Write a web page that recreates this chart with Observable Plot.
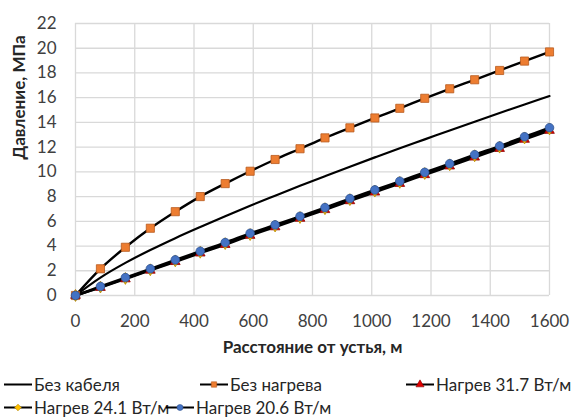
<!DOCTYPE html>
<html>
<head>
<meta charset="utf-8">
<script src="https://cdn.jsdelivr.net/npm/d3@7"></script>
<script src="https://cdn.jsdelivr.net/npm/@observablehq/plot@0.6"></script>
<style>
  body { margin: 0; background: #fff; font-family: Lato, "Open Sans", sans-serif; }
  #wrap { position: relative; width: 573px; height: 420px; }
  #legend { position: absolute; left: 0; top: 0; width: 573px; height: 420px; pointer-events: none; }
  .item { position: absolute; display: flex; align-items: center; font-size: 17px; color: #262626; white-space: nowrap; transform: translateY(-50%); }
  .item svg { margin-right: 2px; }
</style>
</head>
<body>
<div id="wrap">
  <div id="chart"></div>
  <div id="legend"></div>
</div>
<script>
// Distances along the well, m (20 points)
const distance = [0, 84.2, 168.4, 252.6, 336.8, 421.1, 505.3, 589.5, 673.7, 757.9, 842.1, 926.3, 1010.5, 1094.7, 1178.9, 1263.2, 1347.4, 1431.6, 1515.8, 1600];

// Pressure, MPa
const noCable   = [0, 1.45, 2.64, 3.68, 4.64, 5.54, 6.41, 7.26, 8.07, 8.87, 9.65, 10.42, 11.17, 11.91, 12.63, 13.35, 14.06, 14.76, 15.45, 16.13];
const noHeat    = [0, 2.16, 3.9, 5.44, 6.78, 8.0, 9.05, 10.05, 11.0, 11.87, 12.75, 13.56, 14.36, 15.14, 15.95, 16.72, 17.45, 18.2, 18.96, 19.7];
const heat317   = [0, 0.64, 1.33, 2.03, 2.73, 3.42, 4.11, 4.85, 5.54, 6.23, 6.93, 7.65, 8.35, 9.05, 9.76, 10.46, 11.18, 11.88, 12.62, 13.34];
const heat241   = [0, 0.68, 1.38, 2.08, 2.8, 3.5, 4.2, 4.93, 5.62, 6.31, 7.02, 7.75, 8.45, 9.15, 9.87, 10.57, 11.3, 12.0, 12.74, 13.47];
const heat206   = [0, 0.73, 1.45, 2.16, 2.88, 3.58, 4.28, 5.03, 5.71, 6.4, 7.11, 7.84, 8.54, 9.24, 9.96, 10.66, 11.39, 12.09, 12.84, 13.57];

const seriesNames = ["Без кабеля", "Без нагрева", "Нагрев 31.7 Вт/м", "Нагрев 24.1 Вт/м", "Нагрев 20.6 Вт/м"];
const xTicks = [0, 200, 400, 600, 800, 1000, 1200, 1400, 1600];
const yTicks = [0, 2, 4, 6, 8, 10, 12, 14, 16, 18, 20, 22];
const xTitle = "Расстояние от устья, м";
const yTitle = "Давление, МПа";

const styles = [
  {name: seriesNames[0], values: noCable, symbol: null, fill: null, stroke: null, r: 0},
  {name: seriesNames[1], values: noHeat, symbol: "square", fill: "#ED7D31", stroke: "#B85A1E", r: 4.6},
  {name: seriesNames[2], values: heat317, symbol: "triangle", fill: "#E00000", stroke: "#8B0000", r: 3.6},
  {name: seriesNames[3], values: heat241, symbol: "diamond", fill: "#FFC000", stroke: "#B38600", r: 3.6},
  {name: seriesNames[4], values: heat206, symbol: "circle", fill: "#4472C4", stroke: "#2F528F", r: 4.3}
];

const rows = s => distance.map((d, i) => ({x: d, y: s.values[i], series: s.name}));

const marks = [
  Plot.gridX(xTicks, {stroke: "#d9d9d9", strokeOpacity: 1, strokeWidth: 1.3}),
  Plot.gridY(yTicks, {stroke: "#d9d9d9", strokeOpacity: 1, strokeWidth: 1.3}),
  Plot.axisX(xTicks, {tickSize: 0, tickPadding: 19, fontSize: 17, fill: "#404040", label: null, tickFormat: d => String(d)}),
  Plot.axisY(yTicks, {tickSize: 0, tickPadding: 19, fontSize: 17, fill: "#404040", label: null, tickFormat: d => String(d)}),
];
for (const s of styles) {
  marks.push(Plot.line(rows(s), {x: "x", y: "y", stroke: "#000", strokeWidth: s.symbol ? 2.4 : 2.2, curve: "catmull-rom"}));
}
for (const s of styles.slice(1)) {
  marks.push(Plot.dot(rows(s), {x: "x", y: "y", symbol: s.symbol, fill: s.fill, stroke: s.stroke, strokeWidth: 0.8, r: s.r}));
}
marks.push(Plot.text([yTitle], {frameAnchor: "left", dx: -56, rotate: -90, fontWeight: "bold", fontSize: 17, fill: "#262626"}));
marks.push(Plot.text([xTitle], {frameAnchor: "bottom", dy: 57, fontWeight: "bold", fontSize: 17, fill: "#262626"}));

const chart = Plot.plot({
  width: 573,
  height: 365,
  marginLeft: 75,
  marginRight: 24,
  marginTop: 23,
  marginBottom: 70,
  x: {domain: [0, 1600]},
  y: {domain: [0, 22]},
  style: {fontFamily: "Lato, 'Open Sans', sans-serif", background: "#fff", overflow: "visible"},
  marks
});
document.getElementById("chart").appendChild(chart);

// Legend
const legendPos = [[4, 384], [200, 384], [406, 384], [4, 407], [166, 407]];
const legend = document.getElementById("legend");
styles.forEach((s, i) => {
  const div = document.createElement("div");
  div.className = "item";
  div.style.left = legendPos[i][0] + "px";
  div.style.top = legendPos[i][1] + "px";
  const W = 28, H = 12;
  const svg = d3.create("svg").attr("width", W).attr("height", H);
  svg.append("line").attr("x1", 0).attr("x2", W).attr("y1", H / 2).attr("y2", H / 2).attr("stroke", "#000").attr("stroke-width", 2);
  if (s.symbol) {
    const sym = {square: d3.symbolSquare, triangle: d3.symbolTriangle, diamond: d3.symbolDiamond2, circle: d3.symbolCircle}[s.symbol];
    svg.append("path").attr("d", d3.symbol(sym, Math.PI * 3 * 3)())
      .attr("transform", `translate(${W / 2},${H / 2})`)
      .attr("fill", s.fill).attr("stroke", s.stroke).attr("stroke-width", 0.6);
  }
  div.appendChild(svg.node());
  const span = document.createElement("span");
  span.textContent = s.name;
  div.appendChild(span);
  legend.appendChild(div);
});
</script>
</body>
</html>
